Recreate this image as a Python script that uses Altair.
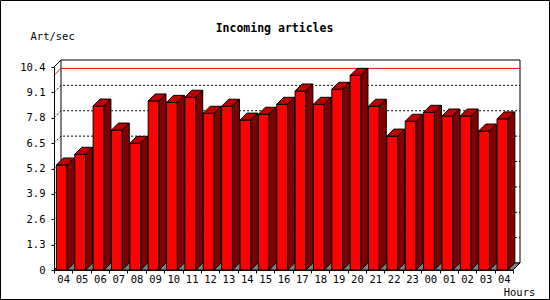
import altair as alt
import pandas as pd

# ---- data ----
hours = ["04", "05", "06", "07", "08", "09", "10", "11", "12", "13", "14", "15",
         "16", "17", "18", "19", "20", "21", "22", "23", "00", "01", "02", "03", "04"]
rates = [5.38, 5.93, 8.40, 7.17, 6.49, 8.66, 8.59, 8.85, 8.03, 8.39, 7.68, 7.98,
         8.49, 9.17, 8.49, 9.26, 9.97, 8.39, 6.86, 7.62, 8.08, 7.89, 7.89, 7.12, 7.74]
y_ticks = [0, 1.3, 2.6, 3.9, 5.2, 6.5, 7.8, 9.1, 10.4]

# ---- layout ----
W, H = 459, 203
PAD_L, PAD_T = 54, 67
PAD_R, PAD_B = 550 - PAD_L - W, 300 - PAD_T - H
N = len(hours)
YMAX = y_ticks[-1]
DEPTH = 7.0                       # 3-D depth in pixels
dx = DEPTH * N / W                # depth in x data units
dy = DEPTH * YMAX / H             # depth in y data units
SLOT = W / N
F_OFF = 2.4 / SLOT                # front face offset inside slot
F_W = 10.8 / SLOT                 # front face width

FONT = "DejaVu Sans Mono"

# ---- derived tables ----
front = pd.DataFrame({
    "x": [i + F_OFF for i in range(N)],
    "x2": [i + F_OFF + F_W for i in range(N)],
    "y": [0.0] * N,
    "y2": rates,
})

top_rows, side_rows = [], []
for i, v in enumerate(rates):
    xl = i + F_OFF
    xr = xl + F_W
    top_rows += [
        {"bar": i, "x": xl, "y": v, "y2": v},
        {"bar": i, "x": xl + dx, "y": v + dy, "y2": v},
        {"bar": i, "x": xr, "y": v + dy, "y2": v},
        {"bar": i, "x": xr + dx, "y": v + dy, "y2": v + dy},
    ]
    side_rows += [
        {"bar": i, "x": xr, "y": v, "y2": 0.0},
        {"bar": i, "x": xr + dx, "y": v + dy, "y2": dy},
    ]
top = pd.DataFrame(top_rows)
side = pd.DataFrame(side_rows)

floor = pd.DataFrame([
    {"x": 0.0, "y": 0.0, "y2": 0.0},
    {"x": dx, "y": dy, "y2": 0.0},
    {"x": float(N), "y": dy, "y2": 0.0},
    {"x": N + dx, "y": dy, "y2": dy},
])

wall = pd.DataFrame([{"x": dx, "x2": N + dx, "y": dy, "y2": YMAX + dy}])

grid_rows = []
for k, v in enumerate(y_ticks[1:-1]):
    grid_rows += [
        {"g": k, "o": 0, "x": 0.0, "y": v},
        {"g": k, "o": 1, "x": dx, "y": v + dy},
        {"g": k, "o": 2, "x": N + dx, "y": v + dy},
    ]
grid = pd.DataFrame(grid_rows)

vmax = max(rates)
maxline = pd.DataFrame([
    {"o": 0, "x": 0.0, "y": vmax},
    {"o": 1, "x": dx, "y": vmax + dy},
    {"o": 2, "x": N + dx, "y": vmax + dy},
])
corner = pd.DataFrame([
    {"o": 0, "x": 0.0, "y": YMAX},
    {"o": 1, "x": dx, "y": YMAX + dy},
])

xscale = alt.Scale(domain=[0, N], nice=False, zero=False)
yscale = alt.Scale(domain=[0, YMAX], nice=False, zero=False)

hours_js = "[" + ",".join("'" + h + "'" for h in hours) + "]"

x_axis = alt.Axis(
    values=list(range(N + 1)),
    labelExpr=f"datum.value < {N} ? {hours_js}[datum.value] : ''",
    labelOffset=SLOT / 2, labelPadding=1, labelFont=FONT, labelFontSize=10.5,
    labelColor="black", labelOverlap=False, labelFlush=False, labelBound=False,
    labelBaseline="top",
    tickSize=3, tickColor="black", domainColor="black", grid=False,
    title="Hours", titleX=465, titleY=25, titleAlign="center",
    titleBaseline="alphabetic", titleFont=FONT, titleFontSize=10.5,
    titleFontWeight="normal", titleColor="black", zindex=1,
)
y_axis = alt.Axis(
    values=y_ticks,
    labelExpr="datum.value == 0 ? '0' : format(datum.value, '.1f')",
    labelFont=FONT, labelFontSize=10.5, labelColor="black", labelPadding=6,
    labelOverlap=False, labelFlush=False, labelBound=False,
    tickSize=3, tickColor="black", domainColor="black", grid=False,
    title="Art/sec", titleAngle=0, titleX=-24, titleY=-27.5, titleAlign="left",
    titleBaseline="alphabetic", titleFont=FONT, titleFontSize=10.5,
    titleFontWeight="normal", titleColor="black", zindex=1,
)

X = alt.X("x:Q", scale=xscale, axis=x_axis, title="Hours")
Y = alt.Y("y:Q", scale=yscale, axis=y_axis, title="Art/sec")

border = alt.Chart(pd.DataFrame([{"a": 0}])).mark_rect(
    fill=None, stroke="black", strokeWidth=1
).encode(
    x=alt.value(0.5 - PAD_L), x2=alt.value(549.5 - PAD_L),
    y=alt.value(0.5 - PAD_T), y2=alt.value(299.5 - PAD_T),
)

wall_l = alt.Chart(wall).mark_rect(fill="white", stroke="black", strokeWidth=1).encode(
    x=X, x2="x2:Q", y=Y, y2="y2:Q")

grid_l = alt.Chart(grid).mark_line(color="black", strokeWidth=1, strokeDash=[2, 2]).encode(
    x=X, y=Y, detail="g:N", order="o:Q")

max_l = alt.Chart(maxline).mark_line(color="#ff0000", strokeWidth=1).encode(
    x=X, y=Y, order="o:Q")

corner_l = alt.Chart(corner).mark_line(color="black", strokeWidth=1).encode(
    x=X, y=Y, order="o:Q")

floor_l = alt.Chart(floor).mark_area(fill="#808080", stroke="black", strokeWidth=1,
                                     opacity=1).encode(x=X, y=Y, y2="y2:Q")

front_l = alt.Chart(front).mark_rect(fill="#ff0000", stroke="black", strokeWidth=1).encode(
    x=X, x2="x2:Q", y=Y, y2="y2:Q")

top_l = alt.Chart(top).mark_area(fill="#c00000", stroke="black", strokeWidth=1,
                                 opacity=1).encode(x=X, y=Y, y2="y2:Q", detail="bar:N")

side_l = alt.Chart(side).mark_area(fill="#800000", stroke="black", strokeWidth=1,
                                   opacity=1).encode(x=X, y=Y, y2="y2:Q", detail="bar:N")

chart = alt.layer(
    border, wall_l, grid_l, max_l, corner_l, floor_l, front_l, top_l, side_l
).properties(
    width=W, height=H,
    padding={"left": PAD_L, "top": PAD_T, "right": PAD_R, "bottom": PAD_B},
    autosize=alt.AutoSizeParams(type="none"),
    background="white",
    title=alt.TitleParams(
        "Incoming articles", font=FONT, fontSize=11.5, fontWeight="bold",
        color="black", anchor="middle", frame="group", dx=-9, offset=0,
        baseline="alphabetic", dy=43.5,
    ),
).configure_view(stroke=None)

chart.save("out.html", embed_options={"renderer": "svg", "actions": False})
